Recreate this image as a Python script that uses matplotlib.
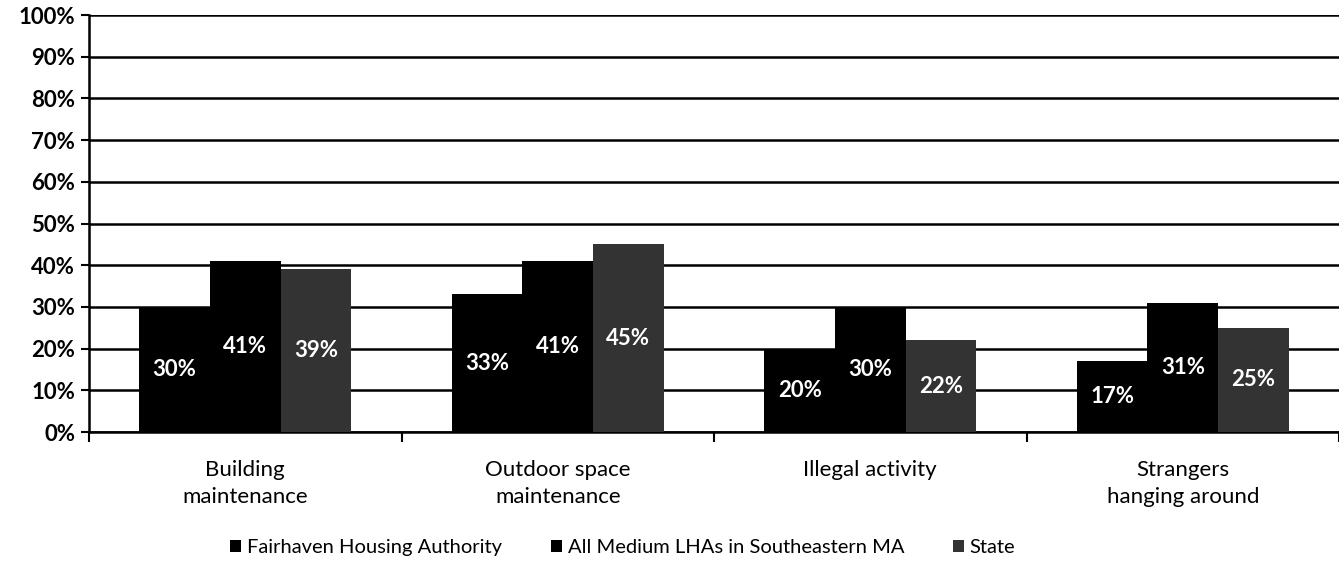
import matplotlib
matplotlib.use("Agg")
import numpy as np
import matplotlib.pyplot as plt

plt.rcParams['font.family'] = ['Lato', 'DejaVu Sans']

categories = ["Building\nmaintenance", "Outdoor space\nmaintenance",
              "Illegal activity", "Strangers\nhanging around"]
fairhaven = [30, 33, 20, 17]
medium_se = [41, 41, 30, 31]
state = [39, 45, 22, 25]
series_names = ["Fairhaven Housing Authority",
                "All Medium LHAs in Southeastern MA", "State"]
colors = ["#000000", "#000000", "#333333"]

fig = plt.figure(figsize=(13.39, 5.67), dpi=100)
ax = fig.add_axes([0.0665, 0.238, 0.9335, 0.7355])

index = np.arange(len(categories))
bar_width = 0.226
series = [fairhaven, medium_se, state]

for i, vals in enumerate(series):
    pos = index + (i - 1) * bar_width
    ax.bar(pos, vals, bar_width, color=colors[i], label=series_names[i],
           zorder=3, linewidth=0)
    for x, v in zip(pos, vals):
        ax.text(x, v / 2.0, "%d%%" % v, color="white", ha="center", va="center",
                fontsize=16, fontweight="bold", zorder=4)

ax.set_xlim(-0.5, len(categories) - 0.5)
ax.set_ylim(0, 100)
ax.set_yticks(np.arange(0, 101, 10))
ax.set_yticklabels(["%d%%" % t for t in range(0, 101, 10)],
                   fontsize=16, fontweight="bold")
ax.yaxis.grid(True, color="black", linewidth=1.8, zorder=0)
ax.set_axisbelow(True)

ax.set_xticks(np.arange(-0.5, len(categories), 1.0))
ax.set_xticklabels([])
ax.set_xticks(index, minor=True)
ax.set_xticklabels(categories, minor=True, fontsize=16, linespacing=1.45)
ax.tick_params(axis="x", which="minor", length=0, pad=20)
ax.tick_params(axis="x", which="major", length=7, width=1.5, direction="out")
ax.tick_params(axis="y", length=6, width=1.5, pad=4)

for s in ["top", "right"]:
    ax.spines[s].set_visible(False)
ax.spines["left"].set_linewidth(1.8)
ax.spines["bottom"].set_linewidth(1.8)

ax.legend(loc="center", bbox_to_anchor=(0.427, -0.278), ncol=3,
          frameon=False, fontsize=14.5, handlelength=0.55, handleheight=0.55,
          handletextpad=0.3, columnspacing=2.4)

fig.savefig("out.png", dpi=100)
